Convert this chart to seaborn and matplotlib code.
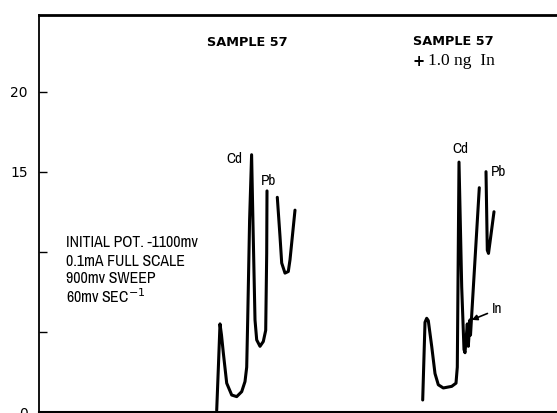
import numpy as np
import pandas as pd
import matplotlib
matplotlib.use("Agg")
import matplotlib.pyplot as plt
from matplotlib import font_manager
import seaborn as sns

# Stripping voltammograms, recorder trace positions (chart units) and current readings
s57_a_x = [177.7, 179.5, 181.0, 182.5, 184.3, 187.7, 192.7, 197.7, 202.7, 206.0, 207.7,
           208.7, 210.6, 212.6, 213.9, 216.0, 217.7, 221.0, 224.3, 226.7, 227.7, 228.0]
s57_a_y = [0.1, 3.0, 5.5, 4.8, 3.7, 1.8, 1.06, 0.96, 1.27, 1.9, 2.8,
           5.75, 12.0, 16.06, 12.0, 5.75, 4.5, 4.1, 4.4, 5.1, 9.9, 13.8]
s57_b_x = [238.3, 241.0, 242.7, 246.0, 249.3, 251.0, 256.0]
s57_b_y = [13.4, 10.96, 9.3, 8.67, 8.77, 9.5, 12.6]

spk_a_x = [383.7, 386.0, 387.7, 389.3, 392.7, 396.0, 399.3, 404.3, 412.7, 417.0, 418.3,
           420.0, 422.7, 425.0, 426.0, 428.3, 429.3, 431.0, 431.5, 440.3]
spk_a_y = [0.75, 5.6, 5.85, 5.7, 4.1, 2.4, 1.7, 1.5, 1.6, 1.8, 2.8,
           15.6, 7.8, 3.9, 3.7, 5.5, 4.1, 5.75, 4.8, 14.0]
spk_b_x = [447.0, 448.3, 449.5, 451.0, 455.0]
spk_b_y = [15.0, 10.1, 9.9, 10.6, 12.5]

y_ticks = [0, 5, 10, 15, 20]
y_tick_labels = ["0", "", "", "15", "20"]

segments = [
    ("sample", s57_a_x, s57_a_y),
    ("sample_tail", s57_b_x, s57_b_y),
    ("spiked", spk_a_x, spk_a_y),
    ("spiked_tail", spk_b_x, spk_b_y),
]
frames = []
for name, xs, ys in segments:
    frames.append(pd.DataFrame({"pos": xs, "current": ys, "segment": name,
                                "order": np.arange(len(xs))}))
df = pd.concat(frames, ignore_index=True)

sns.set_theme(style="white")
plt.rcParams["font.family"] = ["DejaVu Sans"]

# Prefer a narrow sans face for the recorder annotations when one is installed
narrow_family = None
for f in font_manager.fontManager.ttflist:
    if "Narrow" in f.name or "Condensed" in f.name:
        narrow_family = f.name
        break
if narrow_family is None:
    narrow_kw = dict(family=["DejaVu Sans"], fontstretch="condensed")
    narrow_scale = 0.9
else:
    narrow_kw = dict(family=[narrow_family, "DejaVu Sans"])
    narrow_scale = 1.0

fig = plt.figure(figsize=(5.57, 4.13), dpi=100)
ax = fig.add_axes([39 / 557, 1 / 413, 1 - 39 / 557, (412 - 14.7) / 413])

sns.lineplot(data=df, x="pos", y="current", units="segment", estimator=None,
             sort=False, color="black", linewidth=2.2, ax=ax, legend=False)

ax.set_xlim(0, 518)
ax.set_ylim(0, 24.8)
ax.set_xticks([])
ax.set_yticks(y_ticks)
ax.set_yticklabels(y_tick_labels)
ax.tick_params(axis="y", direction="in", length=6, width=1.0, pad=8,
               labelsize=10, colors="black", left=True)
ax.set_xlabel("")
ax.set_ylabel("")
ax.spines["right"].set_visible(False)
ax.spines["top"].set_linewidth(2.0)
ax.spines["left"].set_linewidth(1.3)
ax.spines["bottom"].set_linewidth(1.5)
for side in ["top", "left", "bottom"]:
    ax.spines[side].set_color("black")

# Headings
ax.text(208, 23.06, "SAMPLE 57", ha="center", va="center", fontsize=9.3,
        fontweight="bold", color="black")
ax.text(374, 23.1, "SAMPLE 57", ha="left", va="center", fontsize=9.3,
        fontweight="bold", color="black")
ax.text(374, 21.9, "+", ha="left", va="center", fontsize=10.5,
        fontweight="bold", color="black")
ax.text(389, 21.9, "1.0 ng  In", ha="left", va="center", fontsize=12.5,
        family=["Liberation Serif", "DejaVu Serif"], color="black")

# Instrument settings
settings = ["INITIAL POT. -1100mv", "0.1mA FULL SCALE", "900mv SWEEP",
            "60mv SEC$^{-1}$"]
for txt, yv in zip(settings, [10.56, 9.375, 8.31, 7.19]):
    ax.text(27, yv, txt, ha="left", va="center", fontsize=11.4 * narrow_scale,
            color="black", **narrow_kw)

# Peak labels
lab = dict(ha="center", va="center", fontsize=11 * narrow_scale, color="black", **narrow_kw)
ax.text(195.5, 15.8, "Cd", **lab)
ax.text(229, 14.4, "Pb", **lab)
ax.text(421, 16.4, "Cd", **lab)
ax.text(460, 15.0, "Pb", **lab)
ax.annotate("In", xy=(432.7, 5.75), xytext=(453, 6.4), ha="left", va="center",
            fontsize=11 * narrow_scale, color="black",
            arrowprops=dict(arrowstyle="-|>", color="black", lw=1.2,
                            mutation_scale=8, shrinkA=1, shrinkB=0),
            **narrow_kw)

fig.savefig("out.png", dpi=100)
